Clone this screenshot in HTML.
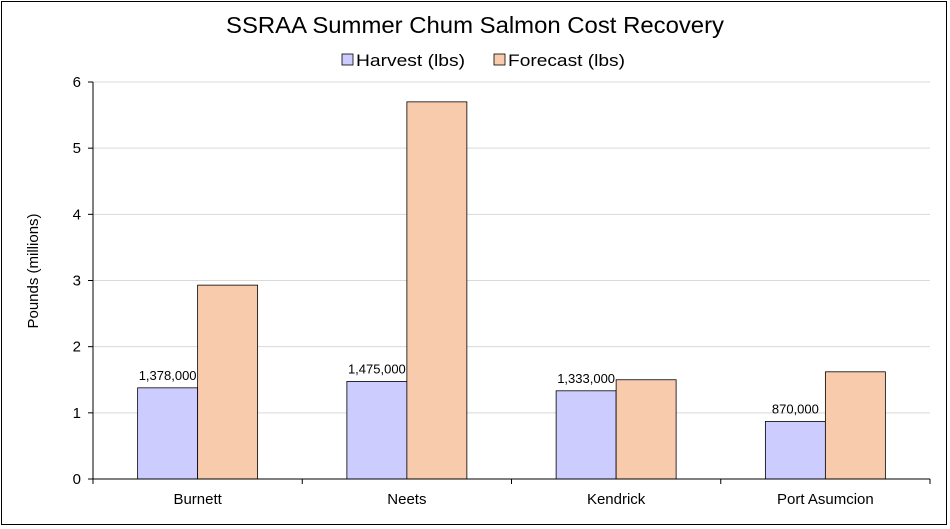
<!DOCTYPE html>
<html><head><meta charset="utf-8"><style>
html,body{margin:0;padding:0;background:#fff;}
svg{display:block;font-family:"Liberation Sans",Arial,sans-serif;}
</style></head><body>
<svg id="chart" width="950" height="529" viewBox="0 0 950 529">
<rect x="1.5" y="1.5" width="945" height="523" fill="#fff" stroke="#000" stroke-width="1"/>
<text x="475" y="33" text-anchor="middle" font-size="23" textLength="498" lengthAdjust="spacingAndGlyphs" fill="#000">SSRAA Summer Chum Salmon Cost Recovery</text>
<g>
<g><rect x="342" y="54" width="11" height="11" fill="#CCCCFF" stroke="#000" stroke-width="0.8"/><text x="356" y="66" font-size="17" textLength="109" lengthAdjust="spacingAndGlyphs">Harvest (lbs)</text></g>
<g><rect x="494" y="54" width="11" height="11" fill="#F8CBAD" stroke="#000" stroke-width="0.8"/><text x="508" y="66" font-size="17" textLength="117" lengthAdjust="spacingAndGlyphs">Forecast (lbs)</text></g>
</g>
<text transform="translate(38,271) rotate(-90)" text-anchor="middle" font-size="15">Pounds (millions)</text>
<g id="grid"></g><g id="bars"></g><g id="axes"></g>
</svg>
<script>
const categories = ["Burnett","Neets","Kendrick","Port Asumcion"];
const harvest = [1.378,1.475,1.333,0.870];
const forecast = [2.93,5.70,1.50,1.62];
const harvestLabels = ["1,378,000","1,475,000","1,333,000","870,000"];
const yTicks = [0,1,2,3,4,5,6];
const NS="http://www.w3.org/2000/svg";
const x0=93,x1=930,y0=479,y1=82,ymax=6;
const y=v=>y0-(v/ymax)*(y0-y1);
const cw=(x1-x0)/categories.length;
const xc=i=>x0+cw*(i+0.5);
const bw=60;
function mk(t,a,p){const e=document.createElementNS(NS,t);for(const k in a)e.setAttribute(k,a[k]);p.appendChild(e);return e;}
const grid=document.getElementById('grid'),bars=document.getElementById('bars'),axes=document.getElementById('axes');
yTicks.forEach(t=>{
 if(t>0){const g=mk('line',{x1:x0,x2:x1,y1:y(t),y2:y(t),stroke:'#d9d9d9','stroke-width':1},grid);
 
 }
 const tk=mk('line',{x1:x0-5,x2:x0,y1:y(t),y2:y(t),stroke:'#000'},axes);
 
 
 const l=mk('text',{x:x0-12,y:y(t)+5,'text-anchor':'end','font-size':15},axes);l.textContent=t;
 
 
});
categories.forEach((c,i)=>{
 const h=mk('rect',{x:xc(i)-bw,y:y(harvest[i]),width:bw,height:y0-y(harvest[i]),fill:'#CCCCFF',stroke:'#000','stroke-width':0.8},bars);
 
 
 const f=mk('rect',{x:xc(i),y:y(forecast[i]),width:bw,height:y0-y(forecast[i]),fill:'#F8CBAD',stroke:'#000','stroke-width':0.8},bars);
 
 
 const lb=mk('text',{x:xc(i)-bw/2,y:y(harvest[i])-8,'text-anchor':'middle','font-size':13},bars);lb.textContent=harvestLabels[i];
 
 
 const cl=mk('text',{x:xc(i),y:y0+25,'text-anchor':'middle','font-size':15},axes);cl.textContent=c;
 
 
 const tk=mk('line',{x1:x0+cw*(i+1),x2:x0+cw*(i+1),y1:y0,y2:y0+5,stroke:'#000'},axes);
 
 
});
const ya=mk('line',{x1:x0,x2:x0,y1:y1,y2:y0+5,stroke:'#000'},axes);


const xa=mk('line',{x1:x0,x2:x1,y1:y0,y2:y0,stroke:'#000'},axes);


</script>
</body></html>
